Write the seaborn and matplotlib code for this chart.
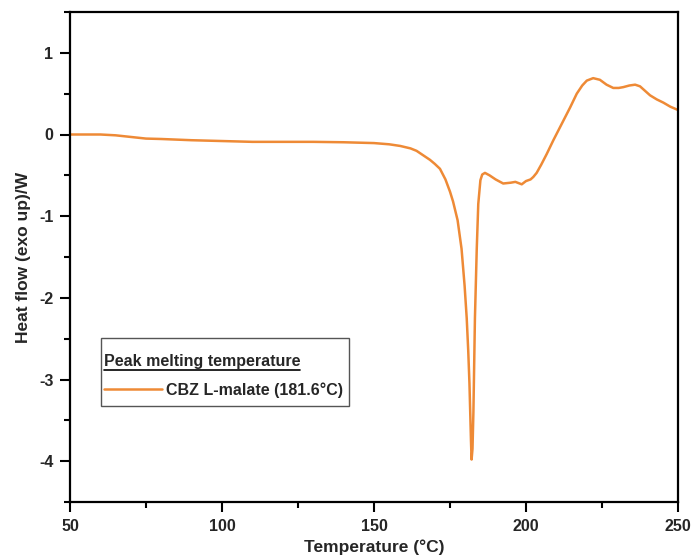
import numpy as np
import pandas as pd
import matplotlib
matplotlib.use("Agg")
import matplotlib.pyplot as plt
import seaborn as sns
from matplotlib.lines import Line2D
from matplotlib.patches import Rectangle
from matplotlib.ticker import MultipleLocator

# ---------- datos ----------
temperatura = [50, 55, 60, 65, 70, 75, 80, 90, 100, 110, 120, 130, 140, 150, 155,
               158.6, 162, 164, 166, 168.4, 170, 171.7, 173.5, 175, 176, 177.5,
               178.8, 179.8, 180.5, 181, 181.4, 181.9, 182.1, 182.4, 182.7, 183.2,
               183.8, 184.3, 185, 185.6, 186.5, 188, 190, 192.5, 195, 196.5, 198.6,
               200, 201.5, 202.4, 203.5, 205, 206.8, 209, 212.3, 214.5, 216.7,
               218.5, 220, 222.1, 224.3, 226.5, 228.7, 230.5, 232, 234, 235.9,
               237.5, 239, 240.8, 243, 245.2, 247.5, 250]
flujo = [0.0, 0.0, 0.0, -0.01, -0.03, -0.05, -0.055, -0.07, -0.08, -0.09, -0.09,
         -0.09, -0.095, -0.105, -0.12, -0.14, -0.17, -0.2, -0.25, -0.31, -0.36,
         -0.42, -0.55, -0.70, -0.82, -1.05, -1.40, -1.85, -2.25, -2.65, -3.05,
         -3.75, -3.98, -3.85, -3.40, -2.25, -1.40, -0.85, -0.56, -0.49, -0.47,
         -0.50, -0.55, -0.60, -0.59, -0.58, -0.61, -0.57, -0.55, -0.52, -0.47,
         -0.37, -0.24, -0.07, 0.17, 0.33, 0.50, 0.60, 0.66, 0.69, 0.67, 0.61,
         0.57, 0.57, 0.58, 0.60, 0.61, 0.59, 0.54, 0.48, 0.43, 0.39, 0.34, 0.30]
serie = "CBZ L-malate (181.6\u00b0C)"
titulo_leyenda = "Peak melting temperature"
x_ticks = [50, 100, 150, 200, 250]
y_ticks = [-4, -3, -2, -1, 0, 1]

df = pd.DataFrame({"T": temperatura, "HF": flujo, "serie": serie})

# ---------- grafico ----------
sns.set_style("ticks")
plt.rcParams['font.family'] = ['Liberation Sans', 'DejaVu Sans']
plt.rcParams['font.weight'] = 'bold'
plt.rcParams['axes.unicode_minus'] = False

fig = plt.figure(figsize=(6.95, 5.59), dpi=100)
ax = fig.add_axes([70/695, 1 - 502/559, 608/695, 490/559])

sns.lineplot(data=df, x="T", y="HF", hue="serie", palette=['#EE8A36'],
             linewidth=1.8, ax=ax, legend=False, sort=False)

ax.set_xlim(50, 250); ax.set_ylim(-4.5, 1.5)
ax.set_xticks(x_ticks); ax.set_yticks(y_ticks)
ax.xaxis.set_minor_locator(MultipleLocator(25))
ax.yaxis.set_minor_locator(MultipleLocator(0.5))
ax.tick_params(which='major', length=7, width=1.5, labelsize=11.5, color='black', pad=5)
ax.tick_params(which='minor', length=4, width=1.5, color='black')
for s in ax.spines.values():
    s.set_linewidth(1.6); s.set_color('black')
for l in ax.get_xticklabels() + ax.get_yticklabels():
    l.set_fontweight('bold')
ax.set_xlabel("Temperature (\u00b0C)", fontsize=12.5, fontweight='bold', labelpad=4)
ax.set_ylabel("Heat flow (exo up)/W", fontsize=12.5, fontweight='bold', labelpad=6)

# marco de la leyenda
ax.add_patch(Rectangle((31/608, 96/490), 248/608, 68/490, transform=ax.transAxes,
                       facecolor='white', edgecolor='#555555', linewidth=1.0, zorder=4))

handle = Line2D([], [], color='#EE8A36', linewidth=1.8)
leg = ax.legend([handle], [serie], title=titulo_leyenda, loc='upper left',
                bbox_to_anchor=(32/608, 150/490), borderaxespad=0, frameon=False,
                handlelength=3.65, handletextpad=0.25,
                prop={'weight': 'bold', 'size': 11.5},
                title_fontproperties={'weight': 'bold', 'size': 11.5},
                alignment='left', borderpad=0.1, labelspacing=0.85)
leg.set_zorder(5)

# subrayado del titulo de la leyenda
fig.canvas.draw()
bb = leg.get_title().get_window_extent()
inv = fig.transFigure.inverted()
(x0, y0), (x1, _) = inv.transform([(bb.x0, bb.y0 - 1), (bb.x1, bb.y0 - 1)])
fig.add_artist(Line2D([x0, x1], [y0, y0], color='black', linewidth=1.2,
                      transform=fig.transFigure))

fig.savefig("out.png", dpi=100)
plt.close(fig)
